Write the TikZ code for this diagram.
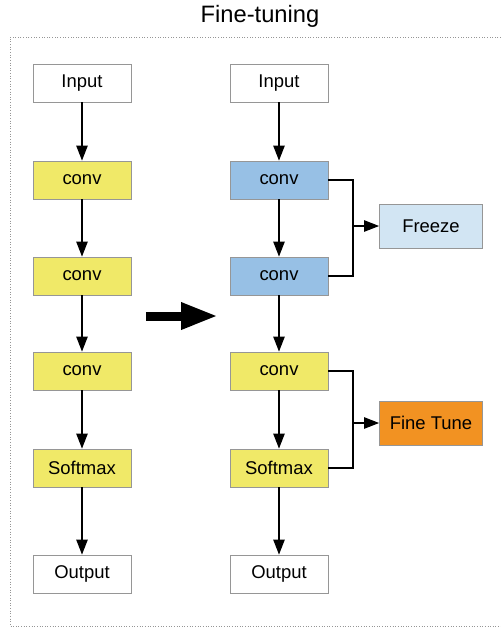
\documentclass[tikz,border=0pt]{standalone}
\usepackage{fontspec}
\setmainfont{Liberation Sans}
\usepackage{xcolor}
\usetikzlibrary{arrows.meta, calc, positioning}

\definecolor{layeryellow}{RGB}{240,233,104}
\definecolor{layerblue}{RGB}{151,192,229}
\definecolor{freezeblue}{RGB}{210,229,243}
\definecolor{tuneorange}{RGB}{242,146,34}
\definecolor{boxgray}{RGB}{150,150,150}

\begin{document}
\begin{tikzpicture}[x=0.02cm, y=-0.02cm,
        layer/.style = {draw=boxgray, line width=0.5pt, minimum width=1.96cm, minimum height=0.76cm,
                        inner sep=0pt, font=\fontsize{10.5}{12}\selectfont},
        side/.style = {layer, minimum width=2.06cm, minimum height=0.88cm},
        flow/.style = {-{Triangle[length=8.5pt, width=6.5pt]}, line width=0.6pt},
        link/.style = {line width=0.6pt}]
    \useasboundingbox (0,0) rectangle (501,627);
    \node[font=\fontsize{13.5}{16}\selectfont] (title) at (260,16) {Fine-tuning};
    \draw[boxgray, dash pattern=on 0.5pt off 1pt, line width=0.5pt] (501,37) -- (10,37) -- (10,626) -- (501,626);

    % left network
    \node[layer, fill=white] (LIn) at (82,83) {Input};
    \node[layer, fill=layeryellow] (LC1) at (82,180) {conv};
    \node[layer, fill=layeryellow] (LC2) at (82,276) {conv};
    \node[layer, fill=layeryellow] (LC3) at (82,371) {conv};
    \node[layer, fill=layeryellow] (LSm) at (82,468) {Softmax};
    \node[layer, fill=white] (LOut) at (82,574) {Output};
        \draw[flow] (LIn) -- (LC1);
        \draw[flow] (LC1) -- (LC2);
        \draw[flow] (LC2) -- (LC3);
        \draw[flow] (LC3) -- (LSm);
        \draw[flow] (LSm) -- (LOut);

    % right network
    \node[layer, fill=white] (RIn) at (279,83) {Input};
    \node[layer, fill=layerblue] (RC1) at (279,180) {conv};
    \node[layer, fill=layerblue] (RC2) at (279,276) {conv};
    \node[layer, fill=layeryellow] (RC3) at (279,371) {conv};
    \node[layer, fill=layeryellow] (RSm) at (279,468) {Softmax};
    \node[layer, fill=white] (ROut) at (279,574) {Output};
        \draw[flow] (RIn) -- (RC1);
        \draw[flow] (RC1) -- (RC2);
        \draw[flow] (RC2) -- (RC3);
        \draw[flow] (RC3) -- (RSm);
        \draw[flow] (RSm) -- (ROut);

    % freeze / fine tune
    \node[side, fill=freezeblue] (Frz) at (431,226) {Freeze};
    \node[side, fill=tuneorange] (Tune) at (431,423) {Fine Tune};
    \coordinate (JF) at (353,226);
    \coordinate (JT) at (353,423);
    \draw[link] (RC1.east) -| (JF);
    \draw[link] (RC2.east) -| (JF);
    \draw[flow] (JF) -- (Frz);
    \draw[link] (RC3.east) -| (JT);
    \draw[link] (RSm.east) -| (JT);
    \draw[flow] (JT) -- (Tune);

    % big arrow
    \coordinate (BigA) at (146,316);
    \coordinate (BigB) at (218,316);
    \draw[line width=0.18cm, -{Triangle[length=0.74cm, width=0.5cm]}] (BigA) -- (BigB);
\end{tikzpicture}
\end{document}
